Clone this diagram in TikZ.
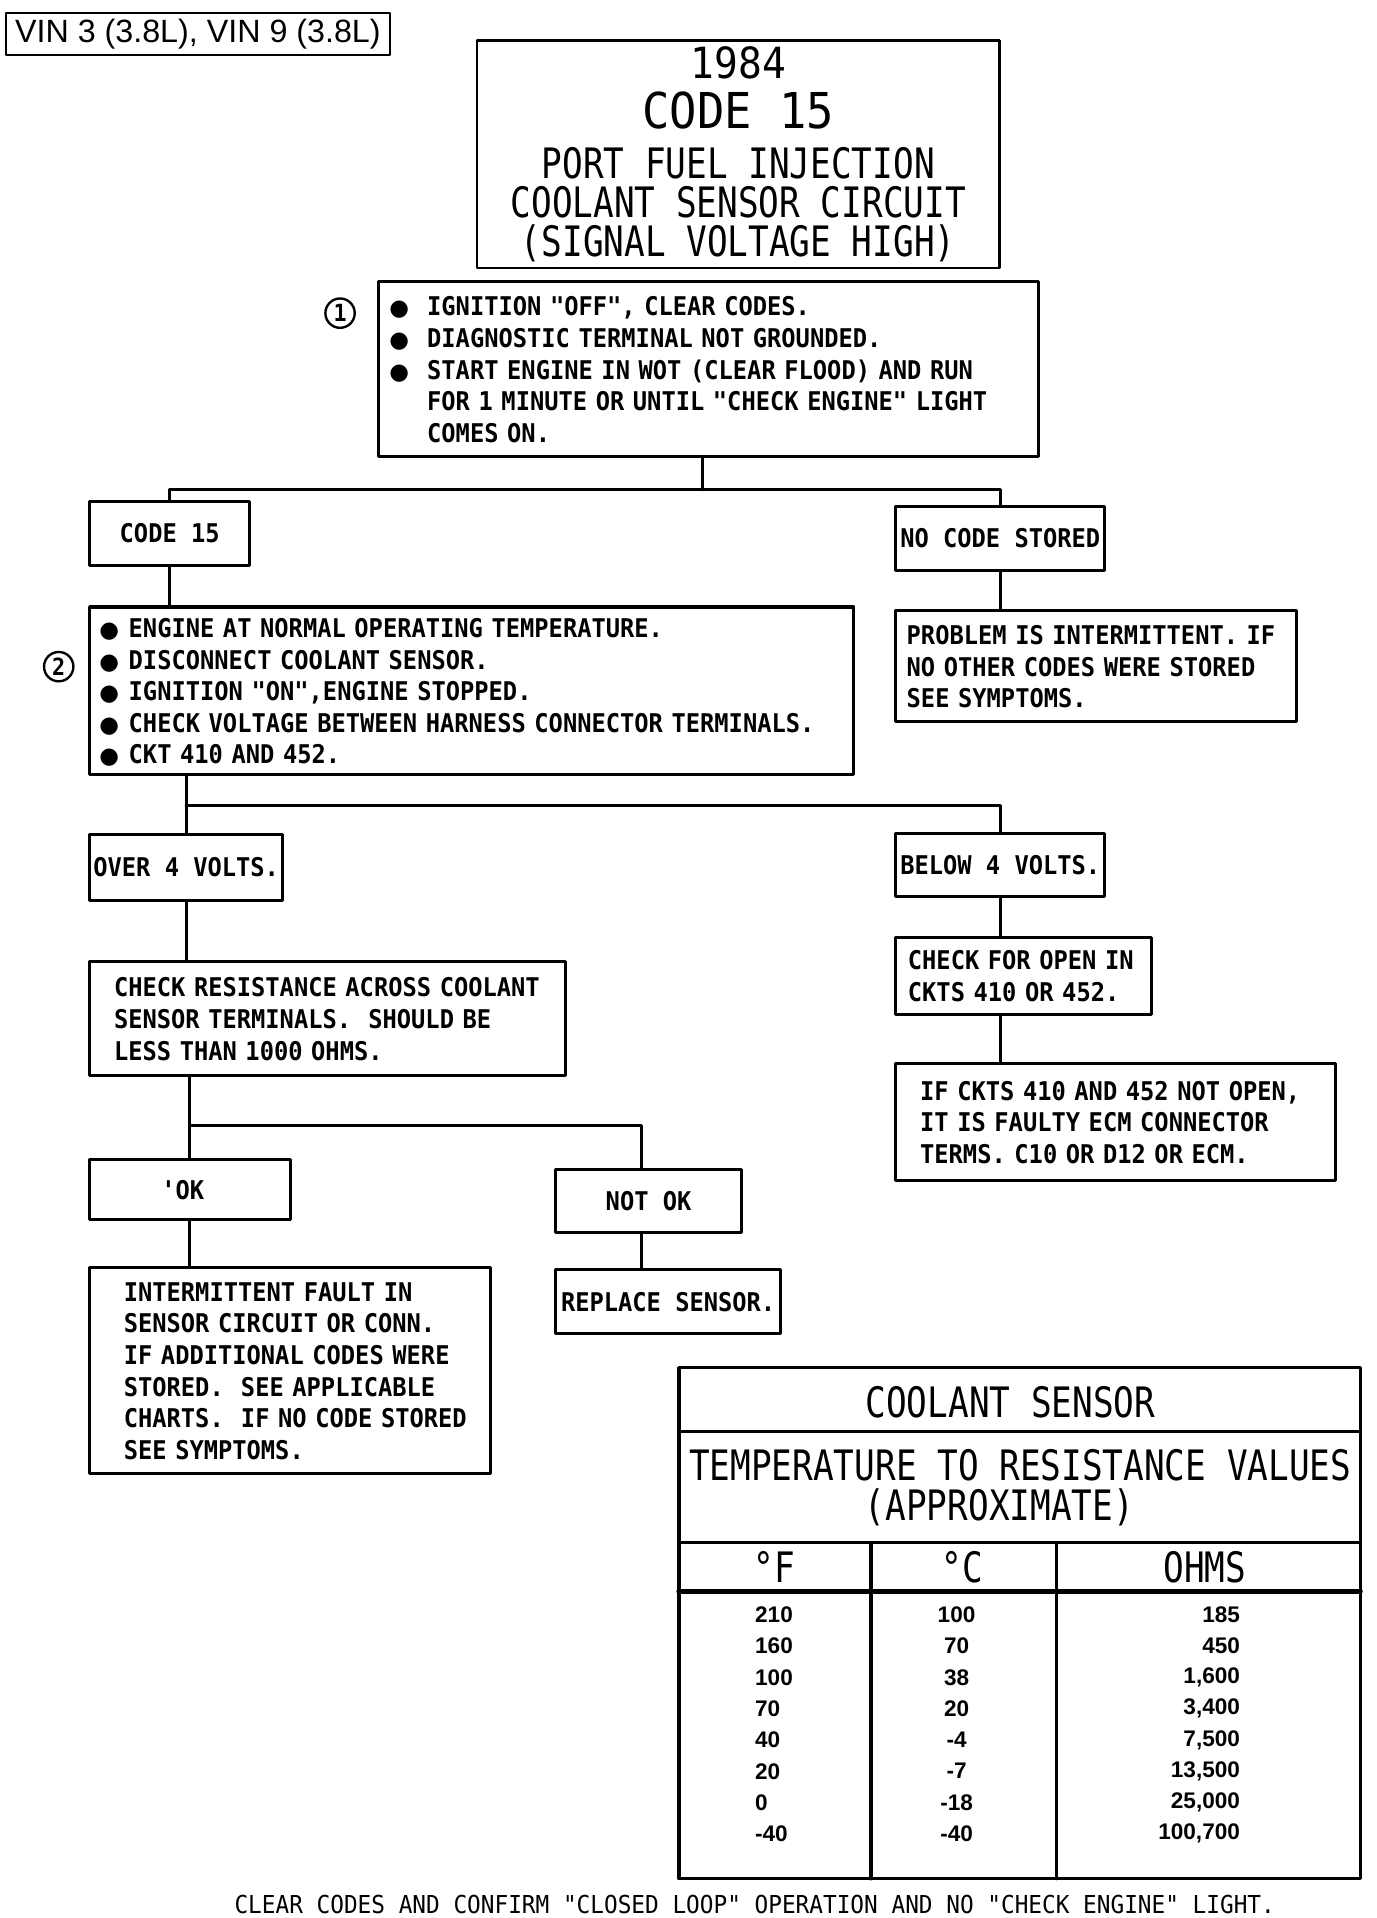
\documentclass[tikz,border=0pt]{standalone}
\usepackage{fontspec}
\usetikzlibrary{calc}
\newfontfamily\plotfont[FakeStretch=0.92]{DejaVu Sans Mono}
\newfontfamily\plottitle[FakeStretch=0.82]{DejaVu Sans Mono}
\newfontfamily\arialfont{Liberation Sans}
\newfontfamily\bltfont{DejaVu Sans}
\newcommand{\boxtxt}{\plotfont\bfseries\fontsize{12}{14.7}\selectfont}
\newcommand{\bigtxt}{\plottitle\fontsize{19.5}{18.2}\selectfont}
\newcommand{\hugetxt}{\plotfont\fontsize{23}{23}\selectfont}
\newcommand{\yeartxt}{\plotfont\fontsize{20}{20}\selectfont}
\newcommand{\blt}[1]{\makebox[#1][l]{\bltfont\fontsize{10.5}{10.5}\selectfont ●}}
\newcommand{\lns}[1]{\noindent\raisebox{-1.7pt}[\height][\depth]{\begin{tabular}{@{}l@{}}#1\end{tabular}}}
\begin{document}
\begin{tikzpicture}[x=0.02cm,y=-0.02cm,line join=round,line cap=round,
	box/.style={draw,line width=1.4pt,inner sep=0pt,anchor=north west,font=\boxtxt},
	lbox/.style={box,align=left},
	link/.style={line width=1.4pt},
	num/.style={draw,circle,line width=1.1pt,inner sep=0pt,minimum size=0.48cm,font=\plotfont\bfseries\fontsize{11}{11}\selectfont},
	cell/.style={font=\plottitle\fontsize{19.5}{19.5}\selectfont,inner sep=0pt},
	val/.style={font=\arialfont\bfseries\fontsize{10.5}{10.5}\selectfont,inner sep=0pt}]
	%	\draw[color=gray!50,dashed] (0,0) grid[step=50] (1125,1568);
	\useasboundingbox (0,0) rectangle (1125,1568);
	\node[draw,line width=0.9pt,anchor=north west,minimum width=6.28cm,minimum height=0.68cm,inner sep=0pt,font=\arialfont\fontsize{15}{15}\selectfont] (vin) at (4,10) {VIN 3 (3.8L), VIN 9 (3.8L)};
	\node[box,line width=1.2pt,minimum width=8.54cm,minimum height=3.72cm,align=center,font=\bigtxt] (title) at (389,32) {{\yeartxt 1984}\\[5.1pt]{\hugetxt CODE 15}\\[5.1pt]PORT FUEL INJECTION\\COOLANT SENSOR CIRCUIT\\(SIGNAL VOLTAGE HIGH)};
	\node[lbox,minimum height=2.86cm,text width=10.44cm,inner xsep=0.18cm] (s1) at (308,229) {\lns{\blt{0.62cm}IGNITION "OFF", CLEAR CODES.\\ \blt{0.62cm}DIAGNOSTIC TERMINAL NOT GROUNDED.\\ \blt{0.62cm}START ENGINE IN WOT (CLEAR FLOOD) AND RUN\\ \hspace*{0.62cm}FOR 1 MINUTE OR UNTIL "CHECK ENGINE" LIGHT\\ \hspace*{0.62cm}COMES ON.}};
	\node[num] (n1) at (278,256) {1};
	\node[box,minimum width=2.62cm,minimum height=1.04cm] (code15) at (72,409) {CODE 15};
	\node[box,minimum width=3.42cm,minimum height=1.04cm] (nocode) at (731,413) {NO CODE STORED};
	\node[lbox,minimum height=2.74cm,text width=12.18cm,inner xsep=0.16cm] (s2) at (72,495) {\lns{\blt{0.48cm}ENGINE AT NORMAL OPERATING TEMPERATURE.\\ \blt{0.48cm}DISCONNECT COOLANT SENSOR.\\ \blt{0.48cm}IGNITION "ON",ENGINE STOPPED.\\ \blt{0.48cm}CHECK VOLTAGE BETWEEN HARNESS CONNECTOR TERMINALS.\\ \blt{0.48cm}CKT 410 AND 452.}};
	\node[num] (n2) at (48,545) {2};
	\node[lbox,minimum height=1.82cm,text width=6.2cm,inner xsep=0.18cm] (prob) at (731,498) {\lns{PROBLEM IS INTERMITTENT. IF\\NO OTHER CODES WERE STORED\\SEE SYMPTOMS.}};
	\node[box,minimum width=3.16cm,minimum height=1.08cm] (over4) at (72,681) {OVER 4 VOLTS.};
	\node[box,minimum width=3.42cm,minimum height=1.04cm] (below4) at (731,680) {BELOW 4 VOLTS.};
	\node[lbox,minimum height=1.86cm,text width=6.98cm,inner xsep=0.4cm] (chkres) at (72,785) {\lns{CHECK RESISTANCE ACROSS COOLANT\\SENSOR TERMINALS.\ \ SHOULD BE\\LESS THAN 1000 OHMS.}};
	\node[lbox,minimum height=1.26cm,text width=3.78cm,inner xsep=0.2cm] (chkopen) at (731,765) {\lns{CHECK FOR OPEN IN\\CKTS 410 OR 452.}};
	\node[lbox,minimum height=1.92cm,text width=6.4cm,inner xsep=0.4cm] (ifckts) at (731,868) {\lns{IF CKTS 410 AND 452 NOT OPEN,\\IT IS FAULTY ECM CONNECTOR\\TERMS. C10 OR D12 OR ECM.}};
	\node[box,minimum width=3.28cm,minimum height=0.98cm] (ok) at (72,947) {\llap{'}OK};
	\node[box,minimum width=3.04cm,minimum height=1.02cm] (notok) at (453,955) {NOT OK};
	\node[lbox,minimum height=3.36cm,text width=5.44cm,inner xsep=0.56cm] (intm) at (72,1035) {\lns{INTERMITTENT FAULT IN\\SENSOR CIRCUIT OR CONN.\\IF ADDITIONAL CODES WERE\\STORED.\ \ SEE APPLICABLE\\CHARTS.\ \ IF NO CODE STORED\\SEE SYMPTOMS.}};
	\node[box,minimum width=3.68cm,minimum height=1.04cm] (repl) at (453,1037) {REPLACE SENSOR.};
	\draw[link] ($(s1.south)+(-5,0)$) -- ++(0,26) coordinate (j1);
	\draw[link] (code15.north) |- (j1) -| (nocode.north);
	\draw[link] (code15.south) -- (code15.south |- s2.north);
	\draw[link] (nocode.south) -- (nocode.south |- prob.north);
	\draw[link] (s2.south -| over4.north) -- (over4.north);
	\draw[link] (s2.south -| over4.north) ++(0,24) -| (below4.north);
	\draw[link] (over4.south) -- (over4.south |- chkres.north);
	\draw[link] (below4.south) -- (below4.south |- chkopen.north);
	\draw[link] (chkopen.south -| below4.south) -- (below4.south |- ifckts.north);
	\draw[link] (chkres.south -| ok.north) -- (ok.north);
	\draw[link] (chkres.south -| ok.north) ++(0,40) -| ($(notok.north)+(-6,0)$);
	\draw[link] (ok.south) -- (ok.south |- intm.north);
	\draw[link] ($(notok.south)+(-6,0)$) -- ($(notok.south |- repl.north)+(-6,0)$);
	% table
	\draw[line width=1.5pt] (555,1118) rectangle (1112,1536);
	\draw[line width=1.5pt] (555,1170)--(1112,1170) (555,1261)--(1112,1261);
	\draw[line width=2.4pt] (555,1301)--(1112,1301);
	\draw[line width=1.5pt] (712,1261)--(712,1536) (864,1261)--(864,1536);
	\node[cell] (tsens) at (826,1146) {COOLANT SENSOR};
	\node[cell] (tres) at (834,1198) {TEMPERATURE TO RESISTANCE VALUES};
	\node[cell] (tappr) at (817,1232) {(APPROXIMATE)};
	\node[cell] (tf) at (633,1281) {°F};
	\node[cell] (tc) at (787,1281) {°C};
	\node[cell] (tohm) at (985,1281) {OHMS};
	\foreach \f/\c/\r [count=\i from 0] in {210/100/185,160/70/450,100/38/1{,}600,70/20/3{,}400,40/-4/7{,}500,20/-7/13{,}500,0/-18/25{,}000,-40/-40/100{,}700}{
		\node[val,anchor=west] (f\i) at (617,1320+25.6*\i) {\f};
		\node[val] (c\i) at (782,1320+25.6*\i) {\c};
		\node[val,anchor=east] (r\i) at (1014,1320+25.6*\i) {\r};
	}
	\node[font=\plotfont\fontsize{11.5}{11.5}\selectfont,inner sep=0pt] (foot) at (617,1557) {CLEAR CODES AND CONFIRM "CLOSED LOOP" OPERATION AND NO "CHECK ENGINE" LIGHT.};
\end{tikzpicture}
\end{document}
